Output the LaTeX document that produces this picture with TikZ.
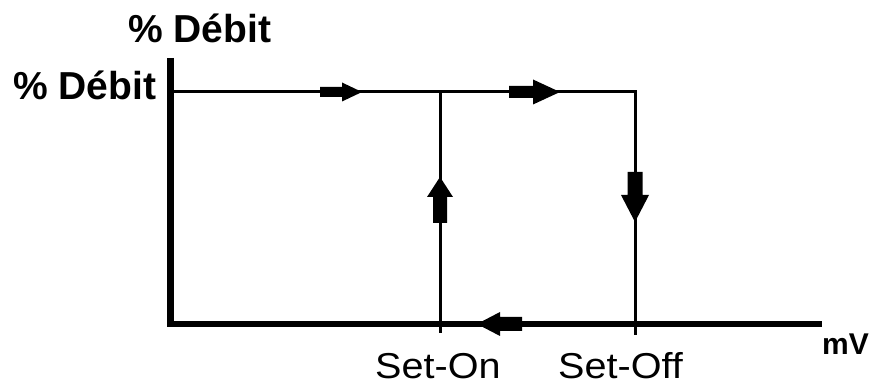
\documentclass[tikz,border=0pt]{standalone}
\usepackage{fontspec}
\setmainfont{Liberation Sans}
\usepackage{graphicx}
\newcommand\blockarr[6]{% tip, angle, total length, head length, shaft width, head width
  \fill[shift={#1},rotate=#2] (0,0) -- (-#4,#6/2) -- (-#4,#5/2) -- (-#3,#5/2) -- (-#3,-#5/2) -- (-#4,-#5/2) -- (-#4,-#6/2) -- cycle;}
\begin{document}
\begin{tikzpicture}[x=1pt,y=1pt,
  axisline/.style={line width=6.5pt,line join=miter},
  curveline/.style={line width=3pt},
  boldlbl/.style={inner sep=0pt,anchor=base west,font=\fontsize{39}{44}\selectfont\bfseries},
  setlbl/.style={inner sep=0pt,text depth=0pt,anchor=base west,font=\fontsize{36}{40}\selectfont},
  unitlbl/.style={inner sep=0pt,text depth=0pt,anchor=base west,font=\fontsize{30}{34}\selectfont\bfseries}]
\useasboundingbox (0,0) rectangle (873,-387);
% coordinates
\coordinate (ytop) at (170.5,-58);
\coordinate (O) at (170.5,-324);
\coordinate (xend) at (822,-324);
\coordinate (A) at (170.5,-92);
\coordinate (B) at (440,-92);
\coordinate (C) at (635,-92);
\coordinate (D) at (440,-333);
\coordinate (E) at (635,-335);
% axes
\draw[axisline] (ytop) -- (O) -- (xend);
% curve
\draw[curveline] (A) -- (C) -- (E);
\draw[curveline] (B) -- (D);
% arrows
\blockarr{(362,-92)}{0}{42}{20}{10}{19}
\blockarr{(560,-92)}{0}{51}{27}{12}{25}
\blockarr{(440,-177)}{90}{46}{20}{14}{26}
\blockarr{(635,-222)}{-90}{50}{27}{15}{28}
\blockarr{(477,-324)}{180}{45}{23}{14}{24}
% labels
\node[boldlbl] (ylab) at (128,-43) {\% Débit};
\node[boldlbl] (ymax) at (13,-100) {\% Débit};
\node[setlbl] (son) at (375,-378) {\scalebox{1.1}[1]{Set-On}};
\node[setlbl] (soff) at (558,-378) {\scalebox{1.1}[1]{Set-Off}};
\node[unitlbl] (mv) at (822,-355) {mV};
\end{tikzpicture}
\end{document}
